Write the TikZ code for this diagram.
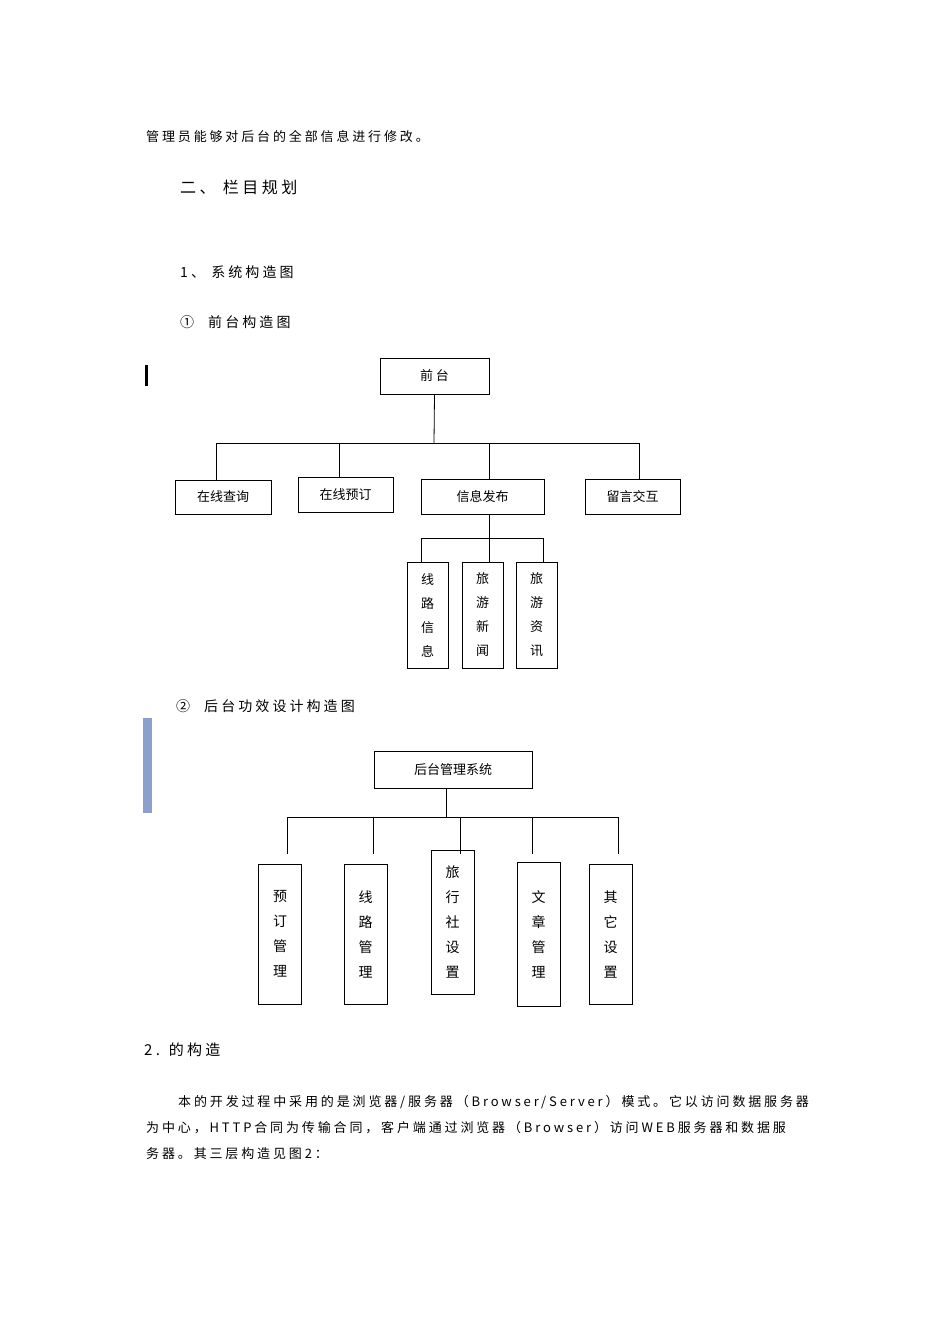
\documentclass[tikz,border=0pt]{standalone}
\usepackage{fontspec}
\setmainfont{Liberation Sans}
\newfontfamily\cjk{Noto Sans CJK SC}
\newfontfamily\cjks[LetterSpace=22]{Noto Sans CJK SC}
\begin{document}
\begin{tikzpicture}[x=1pt,y=-1pt,
 bx/.style={draw,line width=0.8pt,inner sep=0pt},
 ln/.style={line width=0.8pt},
 tx/.style={anchor=west,inner sep=0pt,font=\cjks\fontsize{13}{15}\selectfont},
 lb/.style={font=\cjk\fontsize{13}{15}\selectfont}]
\useasboundingbox (0,0) rectangle (950,1344);
\node[tx] (t1) at (146,137) {管理员能够对后台的全部信息进行修改。};
\node[tx,font=\cjks\fontsize{16}{18}\selectfont] (t2) at (180,187) {二、 栏目规划};
\node[tx,font=\cjks\fontsize{14}{16}\selectfont] (t3) at (180,272) {1、 系统构造图};
\node[tx,font=\cjks\fontsize{14}{16}\selectfont] (t4) at (180,322) {①\quad 前台构造图};
\fill (145,365) rectangle (148,386);
% front
\node[bx,minimum width=109,minimum height=36,lb] (f) at (434.5,376) {前 台};
\node[bx,minimum width=96,minimum height=34,lb] (a) at (223,497) {在线查询};
\node[bx,minimum width=95,minimum height=35,lb] (b) at (345.5,494.5) {在线预订};
\node[bx,minimum width=123,minimum height=35,lb] (c) at (482.5,496.5) {信息发布};
\node[bx,minimum width=95,minimum height=35,lb] (d) at (632.5,496.5) {留言交互};
\draw[ln] (f.south) -- (434,443);
\draw[ln] (216,443) -- (639,443);
\draw[ln] (216,443) -- (216,480);
\draw[ln] (339,443) -- (339,477);
\draw[ln] (489,443) -- (489,479);
\draw[ln] (639,443) -- (639,479);
\foreach \n/\x/\t in {c1/427.5/{线\\路\\信\\息},c2/482.5/{旅\\游\\新\\闻},c3/536.5/{旅\\游\\资\\讯}}
 \node[bx,minimum width=41,minimum height=106,align=center,font=\cjk\fontsize{13}{24}\selectfont] (\n) at (\x,615) {\t};
\draw[ln] (489,514) -- (489,538);
\draw[ln] (421,538) -- (543,538);
\draw[ln] (421,538) -- (421,562);
\draw[ln] (489,538) -- (489,562);
\draw[ln] (543,538) -- (543,562);
% back
\node[tx,font=\cjks\fontsize{14}{16}\selectfont] (t5) at (176,706) {②\quad 后台功效设计构造图};
\fill[fill={rgb,255:red,140;green,160;blue,205}] (143,718) rectangle (152,813);
\node[bx,minimum width=158,minimum height=37,lb] (g) at (453,769.5) {后台管理系统};
\draw[ln] (446,788) -- (446,817);
\draw[ln] (287,817) -- (618,817);
\foreach \n/\x/\y/\h/\t in {h1/280/934/140/{预\\订\\管\\理},h2/365.5/934/140/{线\\路\\管\\理},h3/452.5/922/144/{旅\\行\\社\\设\\置},h4/538.5/934/144/{文\\章\\管\\理},h5/610.5/934/140/{其\\它\\设\\置}}
 \node[bx,minimum width=43,minimum height=\h,align=center,font=\cjk\fontsize{14}{25}\selectfont,anchor=center] (\n) at (\x,\y) {\t};
\foreach \x in {287,373,460,532,618} \draw[ln] (\x,817) -- (\x,854);
% bottom text
\node[tx,font=\cjks\fontsize{15}{17}\selectfont] (t6) at (144,1050) {2. 的构造};
\node[tx] (t7) at (178,1102) {本的开发过程中采用的是浏览器/服务器（Browser/Server）模式。它以访问数据服务器};
\node[tx] (t8) at (146,1128) {为中心，HTTP合同为传输合同，客户端通过浏览器（Browser）访问WEB服务器和数据服};
\node[tx] (t9) at (146,1154) {务器。其三层构造见图2：};
\end{tikzpicture}
\end{document}
